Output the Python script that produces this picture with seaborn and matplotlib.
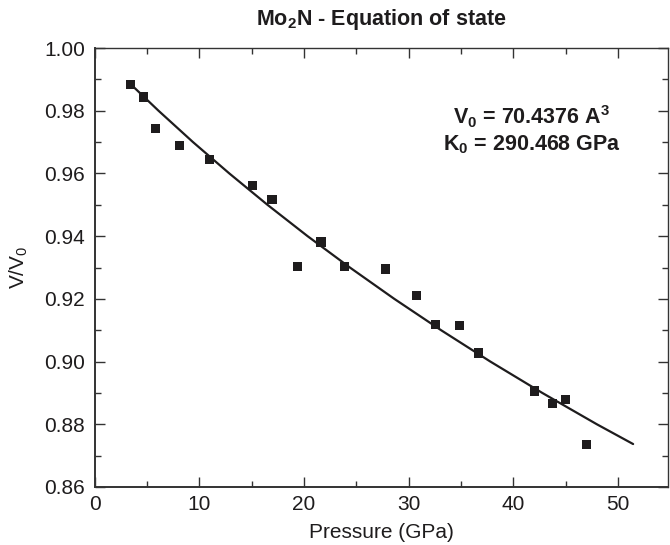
"""Mo2N equation of state: measured V/V0 vs pressure with fitted curve."""

import matplotlib

matplotlib.use("Agg")

import pandas as pd
import seaborn as sns
from matplotlib import pyplot as plt
from matplotlib.ticker import MultipleLocator

PRESSURE = [3.47, 4.71, 5.82, 8.08, 11.01, 15.08, 16.95, 19.38, 21.63, 23.87,
            27.78, 30.77, 32.55, 34.86, 36.66, 41.97, 43.75, 44.96, 46.97]
VOLUME_RATIO = [0.9884, 0.9844, 0.9744, 0.9688, 0.9645, 0.9561, 0.9518, 0.9302,
                0.9381, 0.9302, 0.9295, 0.9211, 0.9117, 0.9114, 0.9027, 0.8906,
                0.8866, 0.8878, 0.8735]

# Fitted equation of state curve
FIT_PRESSURE = [3.44, 6.11, 9.40, 12.87, 16.51, 20.34, 24.38, 28.62, 33.09,
                37.79, 42.75, 47.96, 51.42]
FIT_VOLUME_RATIO = [0.9885, 0.98, 0.97, 0.96, 0.95, 0.94, 0.93, 0.92, 0.91,
                    0.90, 0.89, 0.88, 0.8737]

TITLE = r"Mo$_\mathbf{2}$N - Equation of state"
FIT_LABELS = [r"V$_\mathbf{0}$ = 70.4376 A$^\mathbf{3}$",
              r"K$_\mathbf{0}$ = 290.468 GPa"]

INK = "#1e1c1d"


def _main() -> None:
    sns.set_theme(style="ticks")
    plt.rcParams["font.family"] = ["Liberation Sans", "DejaVu Sans"]
    plt.rcParams["mathtext.fontset"] = "custom"
    plt.rcParams["mathtext.rm"] = "Liberation Sans"
    plt.rcParams["mathtext.it"] = "Liberation Sans"
    plt.rcParams["mathtext.bf"] = "Liberation Sans:bold"

    points = pd.DataFrame({"pressure": PRESSURE, "ratio": VOLUME_RATIO})
    fit = pd.DataFrame({"pressure": FIT_PRESSURE, "ratio": FIT_VOLUME_RATIO})

    fig = plt.figure(figsize=(6.7, 5.45), dpi=100)
    ax = fig.add_axes([94.5 / 670, 1 - 487 / 545, 573.5 / 670, 439 / 545])

    sns.lineplot(data=fit, x="pressure", y="ratio", ax=ax, color=INK,
                 linewidth=1.6, sort=False)
    sns.scatterplot(data=points, x="pressure", y="ratio", ax=ax, marker="s",
                    s=44, color=INK, edgecolor="none", zorder=3)

    ax.set_xlim(0, 54.75)
    ax.set_ylim(0.86, 1.00)
    ax.xaxis.set_major_locator(MultipleLocator(10))
    ax.xaxis.set_minor_locator(MultipleLocator(5))
    ax.yaxis.set_major_locator(MultipleLocator(0.02))
    ax.yaxis.set_minor_locator(MultipleLocator(0.01))
    ax.yaxis.set_major_formatter(lambda v, _: f"{v:.2f}")

    ax.tick_params(which="both", direction="in", top=True, right=True,
                   color="#333333", width=1.0)
    ax.tick_params(which="major", length=7)
    ax.tick_params(which="minor", length=4)
    ax.tick_params(axis="x", which="major", labelsize=15, pad=6,
                   labelcolor=INK)
    ax.tick_params(axis="y", which="major", labelsize=15, pad=7,
                   labelcolor=INK)
    for spine in ax.spines.values():
        spine.set_color("#333333")
        spine.set_linewidth(1.0)
    ax.spines["left"].set_linewidth(1.4)
    ax.spines["bottom"].set_linewidth(1.4)

    ax.set_xlabel("Pressure (GPa)", fontsize=15, color=INK, labelpad=6)
    ax.set_ylabel(r"V/V$_\mathrm{0}$", fontsize=15, color=INK)
    ax.yaxis.set_label_coords(-0.112, 0.5)

    fig.text(381 / 670, 1 - 20 / 545, TITLE, ha="center", va="center",
             fontsize=15.5, fontweight="bold", color=INK)
    ax.text(0.763, 0.843, FIT_LABELS[0], transform=ax.transAxes, ha="center",
            va="center", fontsize=15.5, fontweight="bold", color=INK)
    ax.text(0.763, 0.779, FIT_LABELS[1], transform=ax.transAxes, ha="center",
            va="center", fontsize=15.5, fontweight="bold", color=INK)

    fig.savefig("out.png", dpi=100)


if __name__ == "__main__":
    _main()
